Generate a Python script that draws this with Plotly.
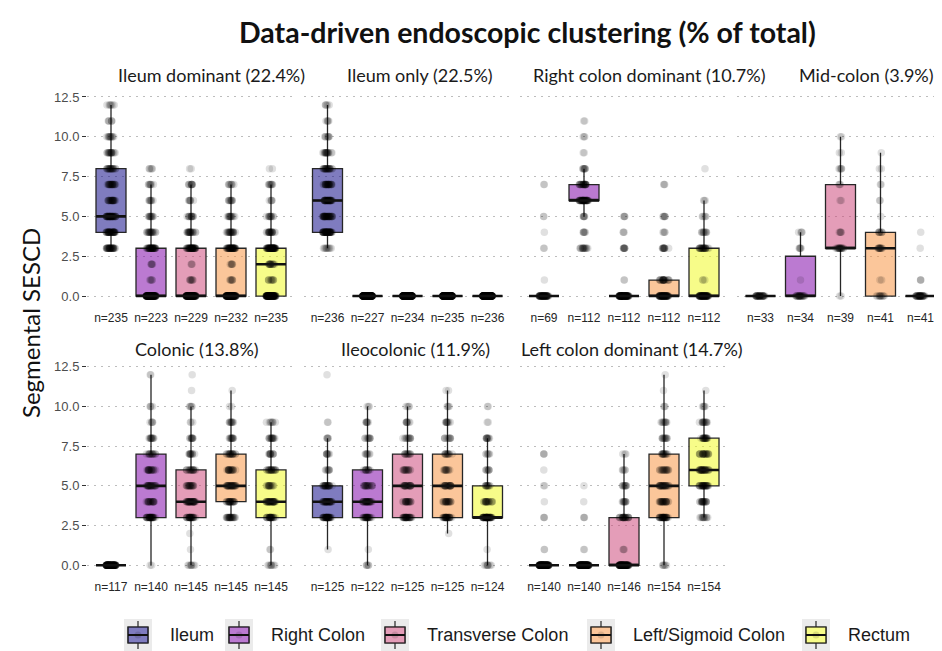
import numpy as np
import plotly.graph_objects as go

# ---------------- data ----------------
SCORES = list(range(13))  # segmental SES-CD values 0..12
SEGMENTS = ["Ileum", "Right Colon", "Transverse Colon", "Left/Sigmoid Colon", "Rectum"]
CLUSTERS = ["Ileum dominant", "Ileum only", "Right colon dominant", "Mid-colon",
            "Colonic", "Ileocolonic", "Left colon dominant"]
CLUSTER_PCT = [22.4, 22.5, 10.7, 3.9, 13.8, 11.9, 14.7]

# number of patients at each score 0..12, one row per segment (Ileum .. Rectum)
ileum_dominant = [
    [0, 0, 0, 35, 40, 45, 25, 25, 22, 18, 12, 6, 7],
    [120, 5, 5, 40, 20, 12, 8, 8, 5, 0, 0, 0, 0],
    [118, 8, 3, 45, 22, 14, 7, 10, 2, 0, 0, 0, 0],
    [120, 7, 6, 45, 22, 14, 10, 8, 0, 0, 0, 0, 0],
    [100, 10, 15, 60, 22, 12, 5, 9, 2, 0, 0, 0, 0],
]
ileum_only = [
    [0, 0, 0, 10, 55, 40, 40, 30, 25, 18, 8, 5, 5],
    [227, 0, 0, 0, 0, 0, 0, 0, 0, 0, 0, 0, 0],
    [234, 0, 0, 0, 0, 0, 0, 0, 0, 0, 0, 0, 0],
    [235, 0, 0, 0, 0, 0, 0, 0, 0, 0, 0, 0, 0],
    [236, 0, 0, 0, 0, 0, 0, 0, 0, 0, 0, 0, 0],
]
right_colon_dominant = [
    [61, 1, 0, 2, 1, 2, 0, 2, 0, 0, 0, 0, 0],
    [0, 0, 0, 15, 6, 6, 45, 25, 8, 2, 3, 2, 0],
    [95, 2, 0, 8, 3, 4, 0, 0, 0, 0, 0, 0, 0],
    [65, 22, 0, 12, 4, 6, 0, 3, 0, 0, 0, 0, 0],
    [65, 3, 0, 25, 10, 5, 3, 0, 1, 0, 0, 0, 0],
]
mid_colon = [
    [33, 0, 0, 0, 0, 0, 0, 0, 0, 0, 0, 0, 0],
    [24, 1, 0, 5, 4, 0, 0, 0, 0, 0, 0, 0, 0],
    [2, 0, 0, 18, 5, 0, 2, 3, 5, 2, 2, 0, 0],
    [11, 2, 0, 12, 8, 1, 2, 2, 2, 1, 0, 0, 0],
    [36, 3, 0, 1, 1, 0, 0, 0, 0, 0, 0, 0, 0],
]
colonic = [
    [117, 0, 0, 0, 0, 0, 0, 0, 0, 0, 0, 0, 0],
    [2, 0, 0, 35, 20, 25, 20, 15, 12, 5, 4, 0, 2],
    [8, 1, 1, 30, 35, 20, 18, 12, 10, 3, 5, 1, 1],
    [0, 0, 0, 25, 25, 30, 20, 20, 12, 10, 2, 1, 0],
    [8, 2, 0, 28, 35, 15, 22, 12, 15, 8, 0, 0, 0],
]
ileocolonic = [
    [0, 1, 0, 40, 35, 25, 8, 8, 5, 2, 0, 0, 1],
    [5, 1, 0, 28, 30, 18, 12, 8, 10, 7, 3, 0, 0],
    [0, 0, 0, 32, 20, 22, 15, 12, 12, 8, 4, 0, 0],
    [0, 0, 1, 31, 21, 22, 12, 12, 10, 10, 4, 2, 0],
    [8, 1, 0, 55, 20, 12, 8, 6, 10, 2, 2, 0, 0],
]
left_colon_dominant = [
    [128, 2, 0, 3, 1, 2, 1, 3, 0, 0, 0, 0, 0],
    [133, 2, 0, 3, 1, 1, 0, 0, 0, 0, 0, 0, 0],
    [90, 3, 0, 25, 10, 10, 5, 3, 0, 0, 0, 0, 0],
    [6, 0, 0, 35, 25, 28, 18, 15, 12, 10, 3, 1, 1],
    [0, 0, 0, 12, 20, 30, 30, 22, 20, 14, 5, 1, 0],
]
PANEL_DATA = [ileum_dominant, ileum_only, right_colon_dominant, mid_colon,
              colonic, ileocolonic, left_colon_dominant]
Y_TICKS = [0, 2.5, 5, 7.5, 10, 12.5]

# ---------------- style / layout (page pixels) ----------------
SEG_FILL = ["rgba(13,8,135,0.53)", "rgba(126,3,168,0.53)", "rgba(204,70,120,0.53)",
            "rgba(248,148,65,0.53)", "rgba(240,249,33,0.53)"]
PAGE_W, PAGE_H = 942, 651
OFF = 8  # default page body margin
FIG_W, FIG_H = PAGE_W - OFF, PAGE_H - OFF
COL_LEFT = [87, 303.5, 520, 736.5]
PANEL_W = 208
UNIT_PX = 40
ROW_TOP = [95.4, 365.1]
ROW_BOT = [305.6, 574.8]
STRIP_Y = [75, 349]
STRIP_CX = [211, 420, 649.5, 866, 197, 415.5, 631.5]
PANEL_POS = [(0, 0), (0, 1), (0, 2), (0, 3), (1, 0), (1, 1), (1, 2)]
BOX_W = 0.75
TITLE_FONT = "Lato, Carlito, Calibri, sans-serif"
TEXT_FONT = "Liberation Sans, Arial, sans-serif"
LINE_COL = "#262626"
LEG_KEY_X = [124, 225, 381, 587, 802]
LEG_Y = 635


def fx(px):
    return (px - OFF) / FIG_W


def fy(py):
    return 1 - (py - OFF) / FIG_H


fig = go.Figure()
layout = dict(
    width=FIG_W, height=FIG_H, margin=dict(l=0, r=0, t=0, b=0, autoexpand=False),
    paper_bgcolor="white", plot_bgcolor="rgba(0,0,0,0)", boxmode="overlay",
    showlegend=False, annotations=[], shapes=[],
)

for p, (row, col) in enumerate(PANEL_POS):
    sfx = "" if p == 0 else str(p + 1)
    xa, ya = "x" + sfx, "y" + sfx
    left = COL_LEFT[col]
    right = min(left + PANEL_W, PAGE_W)
    counts_list = PANEL_DATA[p]
    ns = [int(sum(c)) for c in counts_list]
    layout["xaxis" + sfx] = dict(
        domain=[fx(left), fx(right)], anchor=ya,
        range=[-0.6, -0.6 + (right - left) / UNIT_PX],
        tickmode="array", tickvals=list(range(len(SEGMENTS))),
        ticktext=[f"n={n}" for n in ns],
        showgrid=False, zeroline=False, showline=False,
        ticks="outside", ticklen=1, tickcolor="rgba(0,0,0,0)",
        tickfont=dict(family=TEXT_FONT, size=12, color="#262626"),
        fixedrange=True,
    )
    layout["yaxis" + sfx] = dict(
        domain=[fy(ROW_BOT[row]), fy(ROW_TOP[row])], anchor=xa,
        range=[-0.6, 12.6], tickmode="array", tickvals=Y_TICKS,
        ticktext=[f"{v:.1f}" for v in Y_TICKS],
        showgrid=True, gridcolor="#bdbdbd", griddash="2px,5px", gridwidth=1.2,
        zeroline=False, showline=False,
        showticklabels=(col == 0), ticks=("outside" if col == 0 else ""),
        ticklen=4, tickcolor="#333333", tickwidth=1,
        tickfont=dict(family=TEXT_FONT, size=13, color="#4d4d4d"),
        fixedrange=True,
    )
    layout["annotations"].append(dict(
        text=f"{CLUSTERS[p]} ({CLUSTER_PCT[p]:.1f}%)", xref="paper", yref="paper",
        x=fx(STRIP_CX[p]), y=fy(STRIP_Y[row]),
        xanchor="center", yanchor="middle", showarrow=False,
        font=dict(family=TITLE_FONT, size=18, color="#1a1a1a"),
    ))
    for s, counts in enumerate(counts_list):
        vals = np.repeat(SCORES, counts).astype(float)
        q1, med, q3 = np.percentile(vals, [25, 50, 75])
        iqr = q3 - q1
        lf = vals[vals >= q1 - 1.5 * iqr].min()
        uf = vals[vals <= q3 + 1.5 * iqr].max()
        fig.add_trace(go.Box(
            x=[s], q1=[q1], median=[med], q3=[q3], lowerfence=[lf], upperfence=[uf],
            width=BOX_W, whiskerwidth=0, boxpoints=False,
            fillcolor=SEG_FILL[s], line=dict(color=LINE_COL, width=1.3),
            name=SEGMENTS[s], showlegend=False,
            xaxis=xa, yaxis=ya, hoverinfo="skip",
        ))
        fig.add_trace(go.Box(
            x=np.full(len(vals), s), y=vals, width=BOX_W,
            boxpoints="all", jitter=0.32, pointpos=0,
            fillcolor="rgba(0,0,0,0)", line=dict(color="rgba(0,0,0,0)", width=0),
            marker=dict(color="rgba(0,0,0,0.12)", size=7.5),
            showlegend=False, xaxis=xa, yaxis=ya, hoverinfo="skip",
        ))
        fig.add_trace(go.Scatter(
            x=[s - BOX_W / 2, s + BOX_W / 2], y=[med, med], mode="lines",
            line=dict(color="#111111", width=2.6), showlegend=False,
            xaxis=xa, yaxis=ya, hoverinfo="skip",
        ))

# main title and y-axis title
layout["annotations"].append(dict(
    text="<b>Data-driven endoscopic clustering (% of total)</b>", xref="paper", yref="paper",
    x=fx(527), y=fy(32), xanchor="center", yanchor="middle", showarrow=False,
    font=dict(family=TITLE_FONT, size=28.5, color="#111111"),
))
layout["annotations"].append(dict(
    text="Segmental SESCD", xref="paper", yref="paper", textangle=-90,
    x=fx(30), y=fy(323), xanchor="center", yanchor="middle", showarrow=False,
    font=dict(family=TITLE_FONT, size=24, color="#111111"),
))

# legend (ggplot-style boxplot keys)
for s, name in enumerate(SEGMENTS):
    kx = LEG_KEY_X[s]
    cx = kx + 14
    layout["shapes"] += [
        dict(type="rect", xref="paper", yref="paper", x0=fx(kx), x1=fx(kx + 28),
             y0=fy(LEG_Y + 16), y1=fy(LEG_Y - 16), fillcolor="#ebebeb", line=dict(width=0)),
        dict(type="line", xref="paper", yref="paper", x0=fx(cx), x1=fx(cx),
             y0=fy(LEG_Y + 14), y1=fy(LEG_Y - 14), line=dict(color=LINE_COL, width=1.2)),
        dict(type="rect", xref="paper", yref="paper", x0=fx(cx - 10), x1=fx(cx + 10),
             y0=fy(LEG_Y + 8), y1=fy(LEG_Y - 8), fillcolor="white",
             line=dict(color=LINE_COL, width=1.2)),
        dict(type="rect", xref="paper", yref="paper", x0=fx(cx - 10), x1=fx(cx + 10),
             y0=fy(LEG_Y + 8), y1=fy(LEG_Y - 8), fillcolor=SEG_FILL[s],
             line=dict(color=LINE_COL, width=1.2)),
        dict(type="circle", xref="paper", yref="paper", x0=fx(cx - 3.5), x1=fx(cx + 3.5),
             y0=fy(LEG_Y + 3.5), y1=fy(LEG_Y - 3.5), fillcolor="rgba(0,0,0,0.12)",
             line=dict(width=0)),
        dict(type="line", xref="paper", yref="paper", x0=fx(cx - 10), x1=fx(cx + 10),
             y0=fy(LEG_Y), y1=fy(LEG_Y), line=dict(color="#111111", width=2)),
    ]
    layout["annotations"].append(dict(
        text=name, xref="paper", yref="paper", x=fx(kx + 44), y=fy(LEG_Y),
        xanchor="left", yanchor="middle", showarrow=False,
        font=dict(family=TEXT_FONT, size=18, color="#1a1a1a"),
    ))

fig.update_layout(**layout)
fig.write_html("out.html")
